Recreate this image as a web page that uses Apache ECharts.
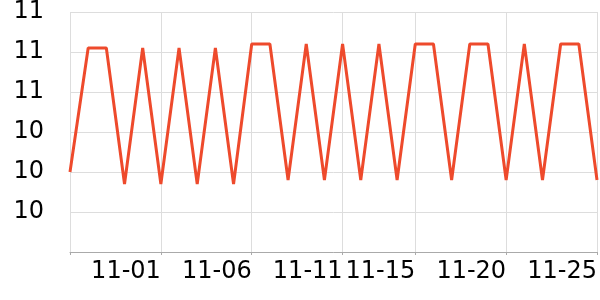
<!DOCTYPE html>
<html>
<head>
<meta charset="utf-8">
<script src="https://cdn.jsdelivr.net/npm/echarts@6/dist/echarts.min.js"></script>
<style>html,body{margin:0;padding:0;background:#fff}#c{width:600px;height:300px}</style>
</head>
<body>
<div id="c"></div>
<script>
var categories = ['10-27','10-28','10-29','10-30','10-31','11-01','11-02','11-03','11-04','11-05',
  '11-06','11-07','11-08','11-09','11-10','11-11','11-12','11-13','11-14','11-15',
  '11-16','11-17','11-18','11-19','11-20','11-21','11-22','11-23','11-24','11-25'];
var values = [10.30,10.61,10.61,10.27,10.61,10.27,10.61,10.27,10.61,10.27,
  10.62,10.62,10.28,10.62,10.28,10.62,10.28,10.62,10.28,10.62,
  10.62,10.28,10.62,10.62,10.28,10.62,10.28,10.62,10.62,10.28];
var labelIdx = [5,10,15,19,24,29];
var tickIdx = [0,5,10,15,19,24,29];

var chart = echarts.init(document.getElementById('c'), null, {renderer:'canvas'});
chart.setOption({
  animation: false,
  grid: {left: 70, right: 2, top: 10, bottom: 48},
  xAxis: {
    type: 'category',
    data: categories,
    boundaryGap: false,
    axisLine: {lineStyle: {color: '#aaaaaa'}},
    axisTick: {show: true, length: 3, interval: function(i){return tickIdx.indexOf(i) >= 0;}, lineStyle:{color:'#aaaaaa'}},
    splitLine: {show: true, interval: function(i){return tickIdx.indexOf(i) >= 0;}, lineStyle: {color: '#dddddd'}},
    axisLabel: {
      interval: function(i){return labelIdx.indexOf(i) >= 0;},
      align: 'right',
      fontSize: 24,
      fontFamily: 'DejaVu Sans',
      color: '#000',
      margin: 8
    }
  },
  yAxis: {
    type: 'value',
    min: 10.1,
    max: 10.7,
    interval: 0.1,
    axisLine: {show: false},
    axisTick: {show: false},
    splitLine: {lineStyle: {color: '#dddddd'}},
    axisLabel: {
      showMinLabel: false,
      fontSize: 24,
      fontFamily: 'DejaVu Sans',
      color: '#000',
      margin: 26,
      formatter: function(v){return String(Math.round(v));}
    }
  },
  series: [{
    type: 'line',
    data: values,
    showSymbol: false,
    symbol: 'none',
    lineStyle: {color: '#ee4a2c', width: 3},
    itemStyle: {color: '#ee4a2c'}
  }]
});
</script>
</body>
</html>
